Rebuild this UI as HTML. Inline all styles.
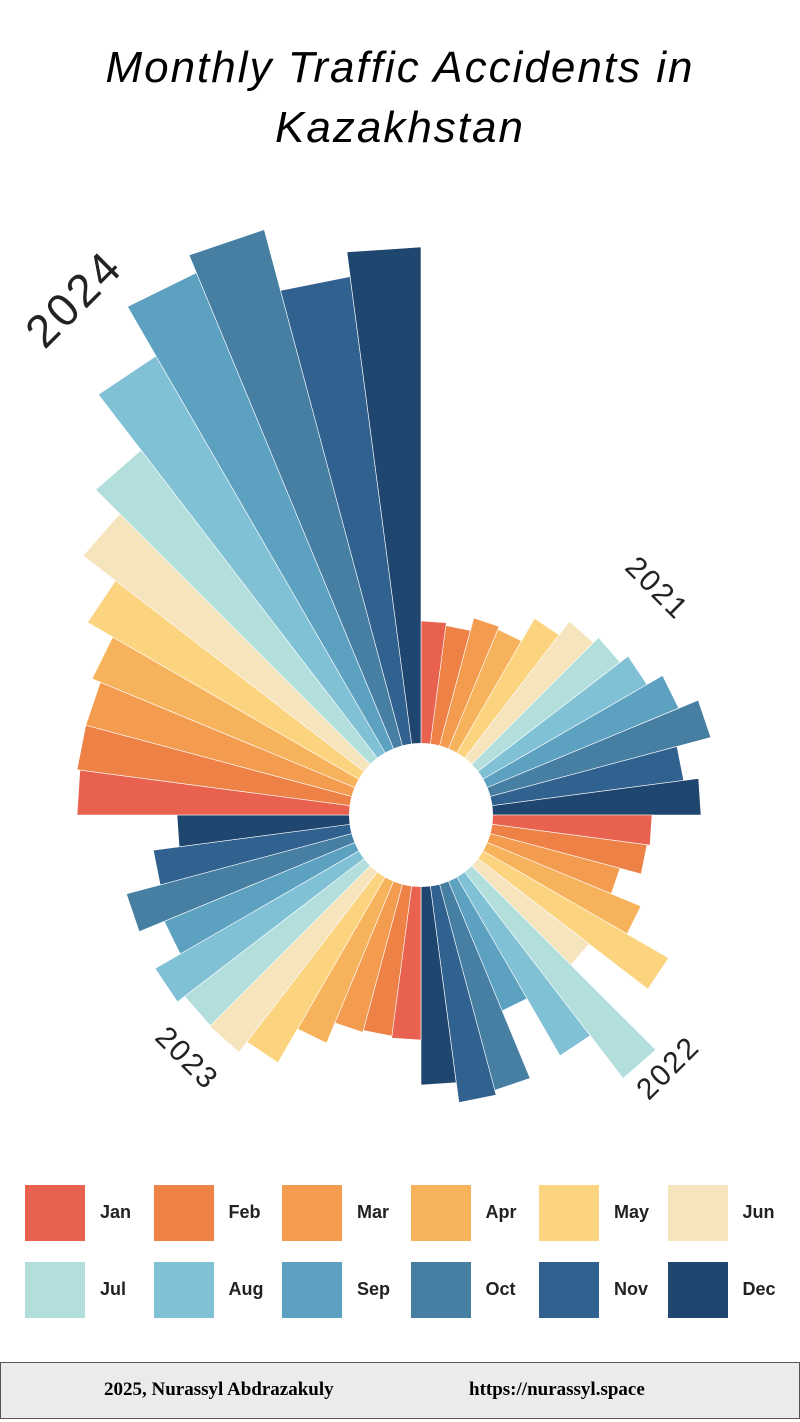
<!DOCTYPE html>
<html><head><meta charset="utf-8">
<style>
body{margin:0;background:#fff;width:800px;height:1422px;overflow:hidden;position:relative;font-family:"Liberation Sans",sans-serif}
.title{position:absolute;top:38px;left:0;width:800px;text-align:center;font-size:44px;font-style:italic;letter-spacing:2px;line-height:60px;color:#000}
.leg{position:absolute;width:60px;height:56px}
.lt{position:absolute;font-weight:bold;font-size:18px;color:#222}
.foot{position:absolute;left:0;top:1362px;width:798px;height:55px;background:#ebebeb;border:1px solid #555;font-family:"Liberation Serif",serif;font-weight:bold;font-size:19px}
</style></head><body>
<div class="title">Monthly Traffic Accidents in<br>Kazakhstan</div>
<svg id="c" width="800" height="1180" style="position:absolute;left:0;top:0"></svg>
<div id="lg"></div>
<div class="foot"><span style="position:absolute;left:103px;top:16px">2025, Nurassyl Abdrazakuly</span><span style="position:absolute;left:468px;top:16px">https://nurassyl.space</span></div>
<script>
var cols=["#E8624F","#EE8146","#F39B4F","#F7B35C","#FCD37E","#F5E4BC","#B2DEDC","#80C1D6","#5CA1BF","#467FA2","#30618F","#1F466E"];
var names=["Jan","Feb","Mar","Apr","May","Jun","Jul","Aug","Sep","Oct","Nov","Dec"];
var r=[194,191,204,201,227,244,251,261,279,300,265,280,
231,228,206,238,286,212,332,278,212,285,290,270,
225,223,225,247,286,299,298,307,278,305,270,244,
344,347,347,356,385,426,460,530,587,606,543,568];
var cx=421,cy=815,s='';
function pt(a,rad){var t=a*Math.PI/180;return (cx+rad*Math.sin(t)).toFixed(1)+','+(cy-rad*Math.cos(t)).toFixed(1);}
for(var i=0;i<48;i++){var a0=i*7.5,a1=a0+7.5;
s+='<path d="M'+cx+','+cy+' L'+pt(a0,r[i])+' L'+pt(a1,r[i])+' Z" fill="'+cols[i%12]+'" stroke="#fff" stroke-width="0.6"/>';}
s+='<circle cx="'+cx+'" cy="'+cy+'" r="72" fill="#fff"/>';
s+='<text x="85" y="310" font-size="46" fill="#222" transform="rotate(-45 85 310)" text-anchor="middle" letter-spacing="3">2024</text>';
s+='<text x="650" y="595" font-size="30" fill="#222" transform="rotate(45 650 595)" text-anchor="middle" letter-spacing="2">2021</text>';
s+='<text x="675" y="1075" font-size="30" fill="#222" transform="rotate(-45 675 1075)" text-anchor="middle" letter-spacing="2">2022</text>';
s+='<text x="180" y="1065" font-size="30" fill="#222" transform="rotate(45 180 1065)" text-anchor="middle" letter-spacing="2">2023</text>';
document.getElementById('c').innerHTML=s;
var h='';for(var j=0;j<12;j++){var col=j%6,row=Math.floor(j/6);var x=25+col*128.5,y=1185+row*77;
h+='<div class="leg" style="left:'+x+'px;top:'+y+'px;background:'+cols[j]+'"></div><div class="lt" style="left:'+(x+75)+'px;top:'+(y+17)+'px">'+names[j]+'</div>';}
document.getElementById('lg').innerHTML=h;
</script>
</body></html>
